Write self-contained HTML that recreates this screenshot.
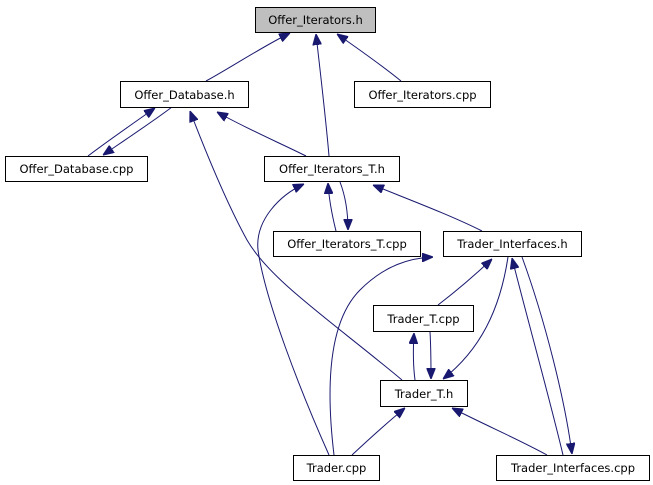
<!DOCTYPE html>
<html><head><meta charset="utf-8"><style>
html,body{margin:0;padding:0;background:#fff;}
svg{display:block;}
text{font-family:"DejaVu Sans","Liberation Sans",sans-serif;font-size:11.5px;fill:#000;}
</style></head><body>
<svg width="653" height="485" viewBox="0 0 653 485" xmlns="http://www.w3.org/2000/svg">
<defs>
<marker id="a" viewBox="0 0 10 8" refX="10" refY="4" markerWidth="11" markerHeight="9" markerUnits="userSpaceOnUse" orient="auto">
<path d="M0,0 L10,4 L0,8 z" fill="#191970" stroke="#191970"/>
</marker>
</defs>
<g fill="none" stroke="#191970" stroke-width="1" marker-end="url(#a)">
<path d="M206,81 C230,68 260,48 290,33"/>
<path d="M329,156 C326,120 320,70 316,34"/>
<path d="M401,81 C385,68 360,50 337,34"/>
<path d="M88,156 C105,143 135,122 155,108"/>
<path d="M172,107 C155,120 125,140 103,155"/>
<path d="M306,156 C280,143 245,128 217,112"/>
<path d="M402,380 C330,320 270,280 247,240 C225,200 205,150 190,111"/>
<path d="M329,455 C300,390 265,300 258,250 C255,220 280,195 304,184"/>
<path d="M336,231 C332,215 329,200 328,183"/>
<path d="M340,182 C345,195 348,212 348,230"/>
<path d="M482,231 C450,215 410,200 373,185"/>
<path d="M334,455 C325,380 330,320 360,290 C385,265 410,258 433,257"/>
<path d="M438,305 C455,292 475,275 492,259"/>
<path d="M508,257 C500,310 480,350 443,379"/>
<path d="M415,380 C413,365 413,350 414,333"/>
<path d="M430,332 C431,348 431,362 431,379"/>
<path d="M352,455 C368,440 388,422 405,408"/>
<path d="M547,455 C520,440 485,425 452,408"/>
<path d="M563,455 C550,400 525,310 512,258"/>
<path d="M522,257 C545,320 565,400 572,454"/>
</g>
<g stroke="#000" stroke-width="1">
<rect x="255.5" y="7.5" width="120" height="25" fill="#bfbfbf"/>
<rect x="120.5" y="81.5" width="128" height="26" fill="#fff"/>
<rect x="354.5" y="81.5" width="136" height="26" fill="#fff"/>
<rect x="5.5" y="156.5" width="142" height="25" fill="#fff"/>
<rect x="264.5" y="156.5" width="135" height="25" fill="#fff"/>
<rect x="273.5" y="231.5" width="147" height="25" fill="#fff"/>
<rect x="443.5" y="231.5" width="138" height="25" fill="#fff"/>
<rect x="373.5" y="305.5" width="100" height="26" fill="#fff"/>
<rect x="380.5" y="380.5" width="87" height="26" fill="#fff"/>
<rect x="293.5" y="455.5" width="86" height="25" fill="#fff"/>
<rect x="496.5" y="455.5" width="153" height="25" fill="#fff"/>
</g>
<g text-anchor="middle">
<text x="315.5" y="24">Offer_Iterators.h</text>
<text x="184.5" y="99">Offer_Database.h</text>
<text x="422.5" y="99">Offer_Iterators.cpp</text>
<text x="76.5" y="173">Offer_Database.cpp</text>
<text x="332" y="173">Offer_Iterators_T.h</text>
<text x="347" y="248">Offer_Iterators_T.cpp</text>
<text x="512.5" y="248">Trader_Interfaces.h</text>
<text x="423.5" y="323">Trader_T.cpp</text>
<text x="424" y="398">Trader_T.h</text>
<text x="336.5" y="472">Trader.cpp</text>
<text x="573" y="472">Trader_Interfaces.cpp</text>
</g>
</svg>
</body></html>
